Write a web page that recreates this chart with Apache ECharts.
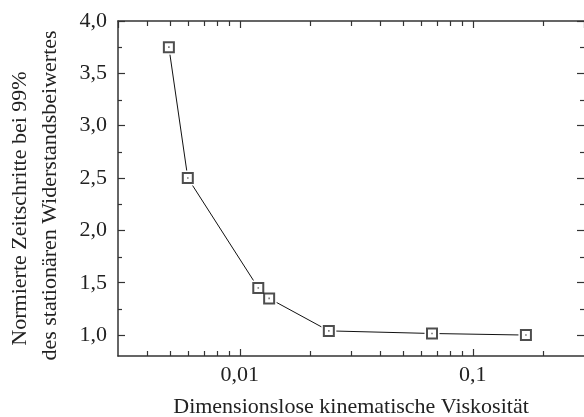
<!DOCTYPE html>
<html><head><meta charset="utf-8">
<script src="https://cdn.jsdelivr.net/npm/echarts@6/dist/echarts.min.js"></script>
<style>html,body{margin:0;padding:0;background:#fff}#c{width:584px;height:417px}</style>
</head><body><div id="c"></div>
<script>
var xValues = [0.00496, 0.00598, 0.0120, 0.01336, 0.0241, 0.0668, 0.169];
var yValues = [3.75, 2.50, 1.45, 1.35, 1.04, 1.015, 1.00];
var yTickLabels = [1.0, 1.5, 2.0, 2.5, 3.0, 3.5, 4.0];
var yMinorTicks = [1.25, 1.75, 2.25, 2.75, 3.25, 3.75];
var xMajorTicks = [0.01, 0.1];
var xMinorTicks = [0.004,0.005,0.006,0.007,0.008,0.009,0.02,0.03,0.04,0.05,0.06,0.07,0.08,0.09,0.2];
var xTitle = 'Dimensionslose kinematische Viskosität';
var yTitle1 = 'Normierte Zeitschritte bei 99%';
var yTitle2 = 'des stationären Widerstandsbeiwertes';

var FONT = '"Liberation Serif", "Times New Roman", serif';
var AX = '#333';
var pts = xValues.map(function(x, i){ return [x, yValues[i]]; });

function isMajor(v){
  var l = Math.log10(v);
  var r = Math.round(l);
  return Math.abs(l - r) < 1e-6 && xMajorTicks.some(function(m){ return Math.abs(Math.log10(m) - r) < 1e-6; });
}
function fmt(v){ return String(v).replace('.', ','); }

var chart = echarts.init(document.getElementById('c'), null, {renderer:'canvas'});
var baseX = {
  type:'log', logBase:10, min:0.003, max:0.3,
  axisLine:{show:true, lineStyle:{color:AX, width:1.5}},
  axisTick:{show:true, inside:true, length:7, lineStyle:{color:AX, width:1.2}, interval:function(i, v){ return isMajor(Number(v)); }},
  splitLine:{show:false}
};
var baseY = {
  type:'value', min:0.8, max:4.0,
  axisLine:{show:true, lineStyle:{color:AX, width:1.5}},
  axisTick:{show:true, inside:true, length:7, lineStyle:{color:AX, width:1.2}, customValues: yTickLabels},
  splitLine:{show:false}
};
var option = {
  animation:false,
  backgroundColor:'#fff',
  grid:{left:118, right:0, top:21, bottom:61, containLabel:false, outerBoundsMode:'none'},
  xAxis:[
    Object.assign({}, baseX, {
      position:'bottom',
      name:xTitle, nameLocation:'middle', nameGap:40,
      nameTextStyle:{fontFamily:FONT, fontSize:22, color:'#222'},
      axisLabel:{show:true, margin:8, fontFamily:FONT, fontSize:22, color:'#222',
        showMinLabel:false, showMaxLabel:false,
        formatter:function(v){ return isMajor(v) ? fmt(Math.pow(10, Math.round(Math.log10(v)))) : ''; }}
    }),
    Object.assign({}, baseX, {position:'top', axisLabel:{show:false}})
  ],
  yAxis:[
    Object.assign({}, baseY, {
      position:'left',
      name:'{a|' + yTitle1 + '}\n{b|' + yTitle2 + '}', nameLocation:'middle', nameGap:53, nameRotate:90,
      nameTextStyle:{fontFamily:FONT, fontSize:22, color:'#222', lineHeight:30, align:'center',
        rich:{
          a:{fontFamily:FONT, fontSize:22, color:'#222', lineHeight:30, padding:[0, 40, 0, 0]},
          b:{fontFamily:FONT, fontSize:22, color:'#222', lineHeight:30, padding:[0, 14, 0, 0]}
        }},
      axisLabel:{show:true, margin:11, fontFamily:FONT, fontSize:22, color:'#222',
        customValues: yTickLabels,
        formatter:function(v){ return Number(v).toFixed(1).replace('.', ','); }}
    }),
    Object.assign({}, baseY, {position:'right', axisLine:{show:false}, axisLabel:{show:false}})
  ],
  series:[
    {type:'line', data:pts, xAxisIndex:0, yAxisIndex:0,
     lineStyle:{color:'#111', width:1},
     symbol:'rect', symbolSize:15, itemStyle:{color:'#fff', borderWidth:0}, z:2},
    {type:'scatter', data:pts, xAxisIndex:0, yAxisIndex:0,
     symbol:'emptyRect', symbolSize:10, itemStyle:{color:'#222', borderColor:'#222', borderWidth:1.1}, z:3},
    {type:'scatter', data:pts, xAxisIndex:0, yAxisIndex:0,
     symbol:'rect', symbolSize:1.6, itemStyle:{color:'#555'}, z:4}
  ]
};
chart.setOption(option);

// minor ticks drawn from the axes' own scales
var gr = [];
var yTop = chart.convertToPixel({yAxisIndex:0}, 4.0);
var yBot = chart.convertToPixel({yAxisIndex:0}, 0.8);
var xL = chart.convertToPixel({xAxisIndex:0}, 0.003);
var xR = chart.convertToPixel({xAxisIndex:0}, 0.3);
xMinorTicks.forEach(function(v){
  var px = Math.round(chart.convertToPixel({xAxisIndex:0}, v)) + 0.5;
  gr.push({type:'line', shape:{x1:px, y1:yBot, x2:px, y2:yBot-5}, style:{stroke:AX, lineWidth:1.2}, silent:true});
  gr.push({type:'line', shape:{x1:px, y1:yTop, x2:px, y2:yTop+5}, style:{stroke:AX, lineWidth:1.2}, silent:true});
});
yMinorTicks.forEach(function(v){
  var py = Math.round(chart.convertToPixel({yAxisIndex:0}, v)) + 0.5;
  gr.push({type:'line', shape:{x1:xL, y1:py, x2:xL+4, y2:py}, style:{stroke:AX, lineWidth:1.2}, silent:true});
  gr.push({type:'line', shape:{x1:xR, y1:py, x2:xR-4, y2:py}, style:{stroke:AX, lineWidth:1.2}, silent:true});
});
chart.setOption({graphic:gr});
</script>
</body></html>
